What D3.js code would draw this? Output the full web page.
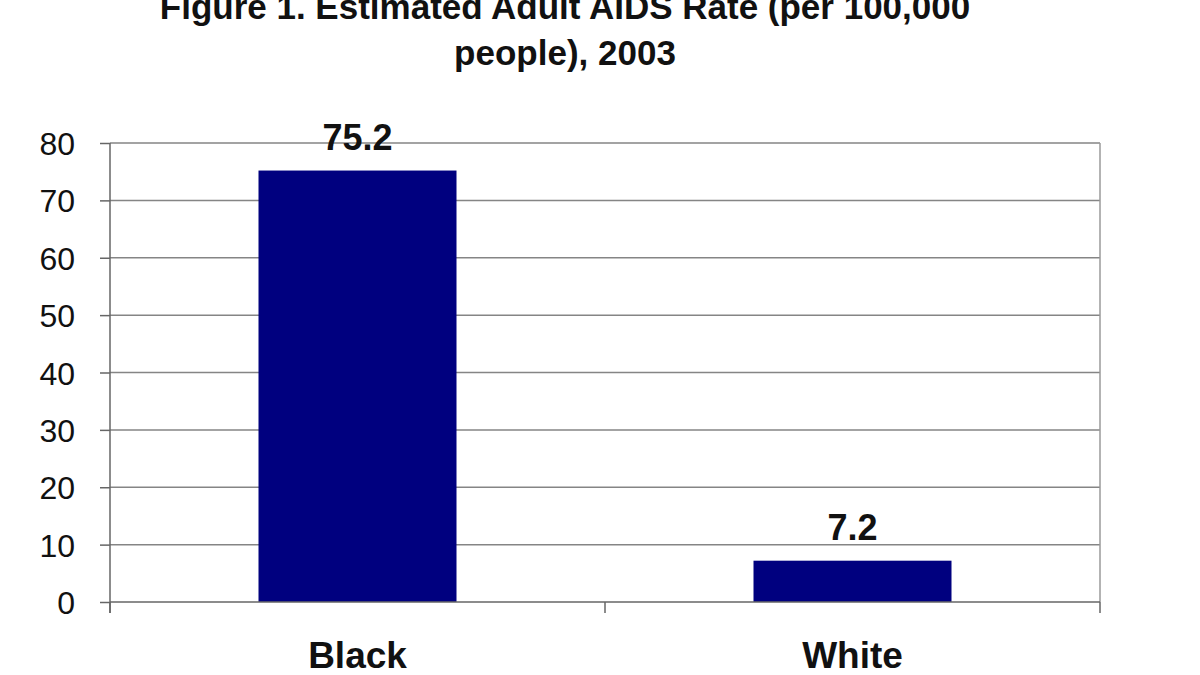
<!DOCTYPE html>
<html>
<head>
<meta charset="utf-8">
<script src="https://cdn.jsdelivr.net/npm/d3@7"></script>
<style>
  html, body { margin: 0; padding: 0; background: #fff; }
  svg { display: block; }
  text { font-family: "Liberation Sans", Arial, sans-serif; fill: #111; }
</style>
</head>
<body>
<svg id="chart" width="1200" height="675"></svg>
<script>
const titleLines = ["Figure 1. Estimated Adult AIDS Rate (per 100,000", "people), 2003"];
const categories = ["Black", "White"];
const values = [75.2, 7.2];
const yTicks = [0, 10, 20, 30, 40, 50, 60, 70, 80];

const svg = d3.select("#chart");
const W = 1200, H = 675;
const plot = { left: 110, right: 1100, top: 143, bottom: 602 };

svg.append("rect").attr("width", W).attr("height", H).attr("fill", "#fff");

// Title
svg.append("g").selectAll("text").data(titleLines).join("text")
  .attr("x", 565)
  .attr("y", (d, i) => 19 + i * 46)
  .attr("text-anchor", "middle")
  .attr("font-size", 35)
  .attr("font-weight", "bold")
  .text(d => d);

const x = d3.scaleBand().domain(categories)
  .range([plot.left, plot.right])
  .paddingInner(0.6).paddingOuter(0.3);
const y = d3.scaleLinear().domain([0, 80]).range([plot.bottom, plot.top]);

// Gridlines
svg.append("g").selectAll("line").data(yTicks.filter(d => d > 0)).join("line")
  .attr("x1", plot.left).attr("x2", plot.right)
  .attr("y1", d => y(d)).attr("y2", d => y(d))
  .attr("stroke", "#858585").attr("stroke-width", 1.5);

// Right border of plot area
svg.append("line")
  .attr("x1", plot.right).attr("x2", plot.right)
  .attr("y1", plot.top).attr("y2", plot.bottom)
  .attr("stroke", "#9a9a9a").attr("stroke-width", 1.5);

// Bars
svg.append("g").selectAll("rect").data(categories).join("rect")
  .attr("x", d => x(d))
  .attr("width", x.bandwidth())
  .attr("y", (d, i) => y(values[i]))
  .attr("height", (d, i) => y(0) - y(values[i]))
  .attr("fill", "#00007f");

// Y axis
const yAxis = d3.axisLeft(y).tickValues(yTicks).tickSize(10).tickPadding(8);
const gy = svg.append("g").attr("transform", `translate(${plot.left},0)`).call(yAxis);
gy.select(".domain").attr("stroke", "#666").attr("stroke-width", 1.5)
  .attr("d", `M0,${plot.top}V${plot.bottom + 11}`);
gy.selectAll(".tick line").attr("stroke", "#666").attr("stroke-width", 1.5);
gy.selectAll(".tick text")
  .attr("font-size", 32)
  .attr("font-family", "'Liberation Sans', Arial, sans-serif")
  .attr("fill", "#111")
  .attr("x", -35)
  .attr("dy", "0.36em");

// X axis (baseline + category boundary ticks)
const boundaries = [plot.left, ...categories.map(c => x(c) - x.step() * x.paddingOuter() + x.step()).slice(0, -1), plot.right];
svg.append("line")
  .attr("x1", plot.left).attr("x2", plot.right)
  .attr("y1", y(0)).attr("y2", y(0))
  .attr("stroke", "#666").attr("stroke-width", 1.5);
svg.append("g").selectAll("line").data(boundaries).join("line")
  .attr("x1", d => d).attr("x2", d => d)
  .attr("y1", y(0)).attr("y2", y(0) + 11)
  .attr("stroke", "#666").attr("stroke-width", 1.5);

// Category labels
svg.append("g").selectAll("text").data(categories).join("text")
  .attr("x", d => x(d) + x.bandwidth() / 2)
  .attr("y", 668)
  .attr("text-anchor", "middle")
  .attr("font-size", 37)
  .attr("font-weight", "bold")
  .text(d => d);

// Value labels
svg.append("g").selectAll("text").data(categories).join("text")
  .attr("x", d => x(d) + x.bandwidth() / 2)
  .attr("y", (d, i) => y(values[i]) - 21)
  .attr("text-anchor", "middle")
  .attr("font-size", 36)
  .attr("font-weight", "bold")
  .text((d, i) => values[i].toFixed(1));
</script>
</body>
</html>
